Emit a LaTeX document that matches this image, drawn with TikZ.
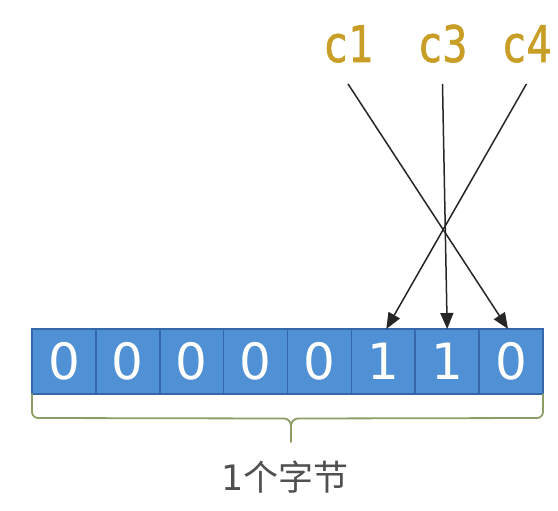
\documentclass[tikz,border=0pt]{standalone}
\usepackage{fontspec}
\setmainfont{DejaVu Sans}
\newfontfamily\monofam[FakeStretch=0.82,FakeBold=1.2]{DejaVu Sans Mono}
\newfontfamily\cjk{Noto Sans CJK SC}
\usetikzlibrary{arrows.meta}
\definecolor{cellfill}{RGB}{80,144,212}
\definecolor{celldraw}{RGB}{52,104,170}
\definecolor{lblgold}{RGB}{200,158,38}
\definecolor{bracegreen}{RGB}{140,158,100}
\definecolor{txtgrey}{RGB}{80,80,80}
\tikzset{
  cellbox/.style={draw=celldraw, line width=1.6pt, fill=cellfill, text=white,
    minimum width=63.875pt, minimum height=65pt, inner sep=0pt, outer sep=0pt,
    font=\fontsize{50}{50}\selectfont},
  clabel/.style={anchor=base, inner sep=0pt, text=lblgold, font=\monofam\fontsize{50.5}{50.5}\selectfont},
  pointer/.style={line width=1.5pt, draw=black!85, -{Triangle[length=16pt,width=13pt]}},
  bracel/.style={draw=bracegreen, line width=1.8pt, line cap=round},
  bytelabel/.style={anchor=base, inner sep=0pt, text=txtgrey, font=\fontsize{35}{35}\selectfont}
}
\begin{document}
\begin{tikzpicture}[x=1pt,y=-1pt]
\useasboundingbox (0,0) rectangle (558,511);
\foreach \d [count=\i from 0] in {0,0,0,0,0,1,1,0} {
  \node[cellbox] (b\i) at ({32+63.875*(\i+0.5)},361.5) {\d};
}
\node[clabel] (c1) at (348,62) {c1};
\node[clabel] (c3) at (442.5,62) {c3};
\node[clabel] (c4) at (526.5,62) {c4};
\draw[pointer] ([yshift=-21pt]c1.south) -- ([xshift=-3pt]b7.north);
\draw[pointer] ([yshift=-21pt]c3.south) -- ([xshift=0pt]b6.north);
\draw[pointer] ([yshift=-21pt]c4.south) -- ([xshift=3pt]b5.north);
\coordinate (bl) at (b0.south west);
\coordinate (br) at (b7.south east);
\coordinate (tip) at (291,442);
\draw[bracel, rounded corners=6pt] (bl) -- ++(0,24) -- (284,418.5);
\draw[bracel] (284,418.5) to[out=0,in=90] (tip |- 0,426) -- (tip);
\draw[bracel, rounded corners=6pt] (br) -- ++(0,24) -- (298,418.5);
\draw[bracel] (298,418.5) to[out=180,in=90] (tip |- 0,426);
\node[bytelabel] (byte) at (285,490) {1{\cjk 个字节}};
\end{tikzpicture}
\end{document}
